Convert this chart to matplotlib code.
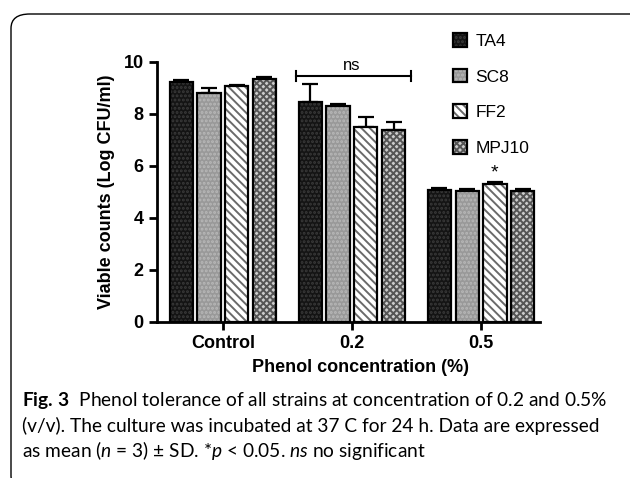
import matplotlib
matplotlib.use("Agg")
import matplotlib.pyplot as plt
import numpy as np
from matplotlib.patches import Patch, FancyBboxPatch
from matplotlib.legend_handler import HandlerTuple

groups = ["Control", "0.2", "0.5"]
strains = ["TA4", "SC8", "FF2", "MPJ10"]
means = {
    "TA4": [9.25, 8.45, 5.08],
    "SC8": [8.80, 8.30, 5.03],
    "FF2": [9.07, 7.50, 5.30],
    "MPJ10": [9.35, 7.40, 5.05],
}
sds = {
    "TA4": [0.05, 0.70, 0.07],
    "SC8": [0.20, 0.10, 0.08],
    "FF2": [0.05, 0.40, 0.07],
    "MPJ10": [0.07, 0.30, 0.08],
}
# face colour, hatch, hatch colour
styles = {
    "TA4": ("#141414", "....", "#3a3a3a"),
    "SC8": ("#999999", "....", "#b8b8b8"),
    "FF2": ("#ffffff", "\\\\\\\\", "#6a6a6a"),
    "MPJ10": ("#cccccc", "xxxxx", "#555555"),
}

plt.rcParams["font.family"] = ["Liberation Sans", "DejaVu Sans"]
plt.rcParams["hatch.linewidth"] = 1.4

fig = plt.figure(figsize=(6.3, 4.78), dpi=100)
W, H = 630, 478

# rounded frame, runs off the right and bottom edges
frame = FancyBboxPatch((11 / W, 1 - 490 / H), 640 / W, (490 - 14) / H,
                       boxstyle="round,pad=0,rounding_size=0.03",
                       transform=fig.transFigure, fill=False, ec="black", lw=1.0)
fig.add_artist(frame)

ax = fig.add_axes([157 / W, 1 - 322 / H, (540 - 157) / W, (322 - 62) / H])
x = np.arange(len(groups))
step, width = 0.215, 0.18
handles = []
for i, s in enumerate(strains):
    fc, hatch, hc = styles[s]
    pos = x + (i - 1.5) * step
    ax.bar(pos, means[s], width, color=fc, hatch=hatch, edgecolor=hc, lw=0, zorder=2)
    ax.bar(pos, means[s], width, fill=False, edgecolor="black", lw=1.6, zorder=3)
    ax.errorbar(pos, means[s], yerr=[np.zeros(3), sds[s]], fmt="none",
                ecolor="black", elinewidth=1.6, capsize=5.5, capthick=1.6, zorder=1)
    handles.append((Patch(facecolor=fc, hatch=hatch, edgecolor=hc, lw=0),
                    Patch(fill=False, edgecolor="black", lw=1.6)))

ax.set_xlim(-0.51, 2.457)
ax.set_ylim(0, 10)
ax.set_yticks([0, 2, 4, 6, 8, 10])
ax.set_xticks(x)
ax.set_xticklabels(groups)
for side in ["top", "right"]:
    ax.spines[side].set_visible(False)
for side in ["left", "bottom"]:
    ax.spines[side].set_linewidth(2)
ax.tick_params(width=2, length=6, labelsize=13)
for lab in ax.get_xticklabels() + ax.get_yticklabels():
    lab.set_fontweight("bold")

ax.set_ylabel("Viable counts (Log CFU/ml)", fontsize=13, fontweight="bold")
ax.yaxis.set_label_coords(-0.11, 0.5)
fig.text(361 / W, 1 - 368 / H, "Phenol concentration (%)", fontsize=13,
         fontweight="bold", ha="center", va="center")

# significance marks
ax.plot([0.566, 1.457], [9.47, 9.47], color="black", lw=1.5, clip_on=False)
ax.plot([0.566, 0.566], [9.28, 9.66], color="black", lw=1.5, clip_on=False)
ax.plot([1.457, 1.457], [9.28, 9.66], color="black", lw=1.5, clip_on=False)
ax.text(1.0, 9.85, "ns", fontsize=12, ha="center", va="center")
ax.text(2 + 0.5 * step, 5.75, "*", fontsize=14, ha="center", va="center")

fig.legend(handles, strains, handler_map={tuple: HandlerTuple(ndivide=1)},
           loc="upper left", bbox_to_anchor=(444 / W, 1 - 24 / H), frameon=False,
           fontsize=12.5, handlelength=0.85, handleheight=0.85, handletextpad=0.45,
           labelspacing=1.15, borderpad=0)

# caption
plt.rcParams["mathtext.fontset"] = "custom"
plt.rcParams["mathtext.rm"] = "Lato"
plt.rcParams["mathtext.it"] = "Lato:italic"
plt.rcParams["mathtext.bf"] = "Lato:bold"
cap = dict(fontsize=13.8, family=["Lato", "DejaVu Sans"], va="baseline", ha="left")
fig.text(22 / W, 1 - 406 / H,
         r"$\mathbf{Fig.\,3}$  Phenol tolerance of all strains at concentration of 0.2 and 0.5%", **cap)
fig.text(22 / W, 1 - 432 / H,
         "(v/v). The culture was incubated at 37 C for 24 h. Data are expressed", **cap)
fig.text(22 / W, 1 - 457 / H,
         r"as mean ($n$ = 3) ± SD. *$p$ < 0.05. $ns$ no significant", **cap)

fig.savefig("out.png", dpi=100)
